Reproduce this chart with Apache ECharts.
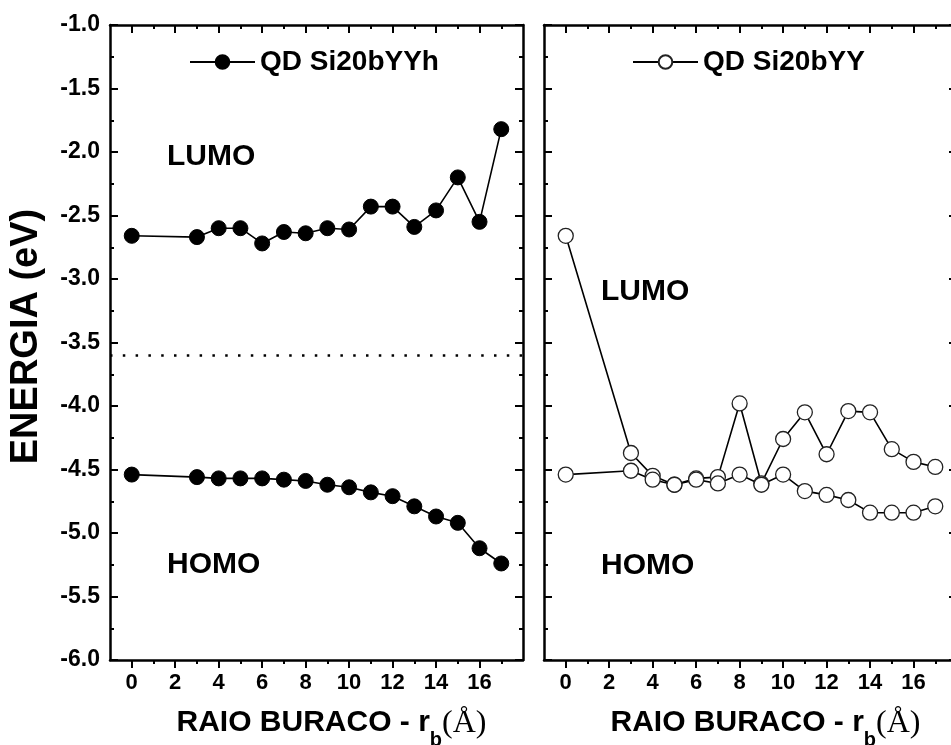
<!DOCTYPE html>
<html><head><meta charset="utf-8">
<script src="https://cdn.jsdelivr.net/npm/echarts@6/dist/echarts.min.js"></script>
<style>html,body{margin:0;padding:0;background:#fff}#c{width:951px;height:745px}</style>
</head><body><div id="c"></div>
<script>
// ---- data ----
const radius = [0, 3, 4, 5, 6, 7, 8, 9, 10, 11, 12, 13, 14, 15, 16, 17];
const lumoYYh = [-2.66, -2.67, -2.60, -2.60, -2.72, -2.63, -2.64, -2.60, -2.61, -2.43, -2.43, -2.59, -2.46, -2.20, -2.55, -1.82];
const homoYYh = [-4.54, -4.56, -4.57, -4.57, -4.57, -4.58, -4.59, -4.62, -4.64, -4.68, -4.71, -4.79, -4.87, -4.92, -5.12, -5.24];
const lumoYY  = [-2.66, -4.37, -4.55, -4.62, -4.57, -4.56, -3.98, -4.61, -4.26, -4.05, -4.38, -4.04, -4.05, -4.34, -4.44, -4.48];
const homoYY  = [-4.54, -4.51, -4.58, -4.62, -4.58, -4.61, -4.54, -4.62, -4.54, -4.67, -4.70, -4.74, -4.84, -4.84, -4.84, -4.79];
const xMajorTicks = [0, 2, 4, 6, 8, 10, 12, 14, 16];
const xMinorTicks = [1, 3, 5, 7, 9, 11, 13, 15, 17];
const separatorLevel = -3.6;
const legendNames = ['QD Si20bYYh', 'QD Si20bYY'];
const bandLabels = ['LUMO', 'HOMO'];
const yTitle = 'ENERGIA (eV)';
const xTitle = '{a|RAIO BURACO - r}{b|b}{c|(Å)}';

// ---- chart ----
const F = 'Liberation Sans, Arial, sans-serif';
const K = '#000';
const chart = echarts.init(document.getElementById('c'), null, {renderer: 'canvas'});
const pairs = (ys) => radius.map((x, i) => [x, ys[i]]);

function xAxes(gridIndex, withName) {
  const base = {type: 'value', gridIndex, min: -1, max: 18, splitLine: {show: false}};
  return [
    Object.assign({}, base, {
      position: 'bottom',
      axisLine: {show: true, onZero: false, lineStyle: {color: K, width: 2.5}},
      axisTick: {show: true, customValues: xMajorTicks, length: 8, lineStyle: {color: K, width: 2}},
      axisLabel: {show: true, customValues: xMajorTicks, fontSize: 22, fontWeight: 'bold', fontFamily: F, color: K, margin: 12},
      name: withName ? xTitle : '',
      nameLocation: 'middle',
      nameGap: 48,
      nameTextStyle: {
        padding: [0, 0, 0, 30],
        rich: {
          a: {fontSize: 30, fontWeight: 'bold', fontFamily: F, color: K, lineHeight: 30, verticalAlign: 'top'},
          b: {fontSize: 20, fontWeight: 'bold', fontFamily: F, color: K, lineHeight: 20, padding: [22, 0, 0, 0], verticalAlign: 'top'},
          c: {fontSize: 32, fontFamily: 'Liberation Serif, Times New Roman, serif', color: K, lineHeight: 30, verticalAlign: 'top'}
        }
      }
    }),
    Object.assign({}, base, {
      position: 'bottom',
      axisLine: {show: false, onZero: false},
      axisTick: {show: true, customValues: xMinorTicks, length: 4, lineStyle: {color: K, width: 2}},
      axisLabel: {show: false}
    }),
    Object.assign({}, base, {
      position: 'top',
      axisLine: {show: true, onZero: false, lineStyle: {color: K, width: 2.5}},
      axisTick: {show: true, inside: true, customValues: xMajorTicks, length: 8, lineStyle: {color: K, width: 2}},
      axisLabel: {show: false}
    }),
    Object.assign({}, base, {
      position: 'top',
      axisLine: {show: false, onZero: false},
      axisTick: {show: true, inside: true, customValues: xMinorTicks, length: 4, lineStyle: {color: K, width: 2}},
      axisLabel: {show: false}
    })
  ];
}

function yAxes(gridIndex, withLabels) {
  const base = {
    type: 'value', gridIndex, min: -6, max: -1, interval: 0.5,
    splitLine: {show: false},
    axisLine: {show: true, onZero: false, lineStyle: {color: K, width: 2.5}},
    axisTick: {show: true, inside: true, length: 8, lineStyle: {color: K, width: 2}},
    minorTick: {show: true, splitNumber: 2, length: 4, lineStyle: {color: K, width: 2}}
  };
  return [
    Object.assign({}, base, {
      position: 'left',
      axisLabel: withLabels
        ? {show: true, fontSize: 23, fontWeight: 'bold', fontFamily: F, color: K, margin: 10, formatter: (v) => v.toFixed(1)}
        : {show: false},
      name: withLabels ? yTitle : '',
      nameLocation: 'middle',
      nameRotate: 90,
      nameGap: 64,
      nameTextStyle: {fontSize: 38, fontWeight: 'bold', fontFamily: F, color: K, padding: [0, 0, 0, 12]}
    }),
    Object.assign({}, base, {position: 'right', axisLabel: {show: false}})
  ];
}

function lineSeries(name, ys, xi, yi, filled) {
  return {
    type: 'line', name, data: pairs(ys), xAxisIndex: xi, yAxisIndex: yi,
    symbol: 'circle', symbolSize: 15, showSymbol: true,
    lineStyle: {color: K, width: 1.6},
    itemStyle: filled ? {color: K, borderColor: K, borderWidth: 1} : {color: '#fff', borderColor: '#222', borderWidth: 1.3},
    animation: false, z: 3
  };
}

const leftLumo = lineSeries(legendNames[0], lumoYYh, 0, 0, true);
leftLumo.markLine = {
  silent: true, symbol: ['none', 'none'], label: {show: false},
  lineStyle: {color: K, width: 2.5, type: [2.5, 10.3]},
  data: [{yAxis: separatorLevel}], animation: false
};

const legendText = {fontSize: 28, fontWeight: 'bold', fontFamily: F, color: K};

const option = {
  backgroundColor: '#fff',
  animation: false,
  grid: [
    {left: 110, top: 25, width: 413, height: 635, outerBoundsMode: 'none', containLabel: false},
    {left: 544, top: 25, width: 413, height: 635, outerBoundsMode: 'none', containLabel: false}
  ],
  xAxis: [].concat(xAxes(0, true), xAxes(1, true)),
  yAxis: [].concat(yAxes(0, true), yAxes(1, false)),
  legend: [
    {data: [legendNames[0]], left: 184, top: 43, itemWidth: 65, itemHeight: 17, selectedMode: false, textStyle: legendText},
    {data: [legendNames[1]], left: 627, top: 43, itemWidth: 65, itemHeight: 17, selectedMode: false, textStyle: legendText}
  ],
  graphic: [
    {type: 'text', x: 167, y: 157, style: {text: bandLabels[0], font: 'bold 30px ' + F, fill: K, verticalAlign: 'middle'}},
    {type: 'text', x: 167, y: 565, style: {text: bandLabels[1], font: 'bold 30px ' + F, fill: K, verticalAlign: 'middle'}},
    {type: 'text', x: 601, y: 292, style: {text: bandLabels[0], font: 'bold 30px ' + F, fill: K, verticalAlign: 'middle'}},
    {type: 'text', x: 601, y: 566, style: {text: bandLabels[1], font: 'bold 30px ' + F, fill: K, verticalAlign: 'middle'}}
  ],
  series: [
    leftLumo,
    lineSeries(legendNames[0], homoYYh, 0, 0, true),
    lineSeries(legendNames[1], lumoYY, 4, 2, false),
    lineSeries(legendNames[1], homoYY, 4, 2, false)
  ]
};
chart.setOption(option);
</script>
</body></html>
